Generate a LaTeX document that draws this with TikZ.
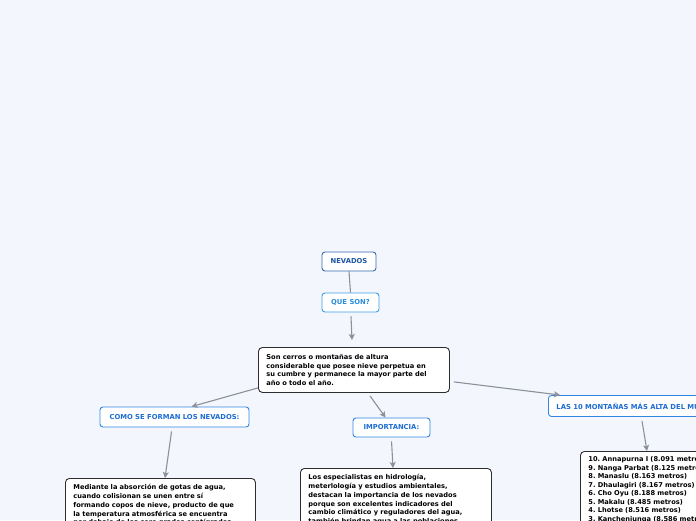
\documentclass[tikz,border=0pt]{standalone}
\usepackage{fontspec}
\setmainfont{DejaVu Sans}
\usetikzlibrary{arrows.meta,calc}
\frenchspacing
\definecolor{bg}{RGB}{243,246,253}
\definecolor{navyb}{RGB}{56,106,178}
\definecolor{navyt}{RGB}{30,86,160}
\definecolor{skyb}{RGB}{58,160,232}
\definecolor{skyt}{RGB}{40,140,218}
\definecolor{topb}{RGB}{50,134,224}
\definecolor{topt}{RGB}{28,108,210}
\definecolor{conn}{RGB}{140,144,152}
\definecolor{bodyb}{RGB}{45,45,45}
\tikzset{
  base/.style={draw,rounded corners=3pt,fill=white,line width=0.9pt,font=\bfseries\fontsize{6.8}{8}\selectfont,inner sep=0pt},
  rootbox/.style={base,draw=navyb,text=navyt},
  subbox/.style={base,draw=skyb,text=skyt},
  topicbox/.style={base,draw=topb,text=topt},
  bodybox/.style={draw=bodyb,rounded corners=4pt,fill=white,line width=0.9pt,font=\bfseries\fontsize{6.65}{8.8}\selectfont,inner xsep=8pt,align=left,text=black},
  conline/.style={draw=conn,line width=1.1pt},
  conarrow/.style={conline,-{Stealth[length=6pt,width=6pt,inset=1.5pt]}},
}
\begin{document}
\frenchspacing
\begin{tikzpicture}[x=1pt,y=-1pt]
\useasboundingbox (0,0) rectangle (696,520);
\fill[bg] (0,0) rectangle (696,520);
\clip (0,0) rectangle (696,520);

\node[rootbox,minimum width=54pt,minimum height=19pt] (nev) at (349,261.5) {NEVADOS};
\node[subbox,minimum width=57pt,minimum height=19pt] (que) at (350.5,302.5) {QUE SON?};
\node[bodybox,anchor=north west,text width=175pt,minimum height=45pt] (main) at (258,347)
  {Son cerros o montañas de altura\\considerable que posee nieve perpetua en\\su cumbre y permanece la mayor parte del\\año o todo el año.};
\node[topicbox,minimum width=149pt,minimum height=20pt] (como) at (174.5,417) {COMO SE FORMAN LOS NEVADOS:};
\node[topicbox,minimum width=77pt,minimum height=19pt] (imp) at (391.5,427.5) {IMPORTANCIA:};
\node[topicbox,anchor=north west,minimum height=21pt,inner xsep=8pt] (las) at (548,395) {LAS 10 MONTAÑAS MÁS ALTA DEL MUNDO};

\node[bodybox,anchor=north west,text width=174pt,inner ysep=6pt] (medi) at (65,478)
  {Mediante la absorción de gotas de agua,\\cuando colisionan se unen entre sí\\formando copos de nieve, producto de que\\la temperatura atmosférica se encuentra\\por debajo de los cero grados centígrados\\y se acumulan en las cumbres.};
\node[bodybox,anchor=north west,text width=175pt,inner ysep=6pt] (los) at (300,468)
  {Los especialistas en hidrología,\\meterlología y estudios ambientales,\\destacan la importancia de los nevados\\porque son excelentes indicadores del\\cambio climático y reguladores del agua,\\también brindan agua a las poblaciones.};
\node[bodybox,anchor=north west,text width=160pt,inner ysep=5pt,font=\bfseries\fontsize{6.65}{8.5}\selectfont] (list) at (580,451)
  {10. Annapurna I (8.091 metros)\\9. Nanga Parbat (8.125 metros)\\8. Manaslu (8.163 metros)\\7. Dhaulagiri (8.167 metros)\\6. Cho Oyu (8.188 metros)\\5. Makalu (8.485 metros)\\4. Lhotse (8.516 metros)\\3. Kanchenjunga (8.586 metros)\\2. K2 (8.611 metros)\\1. Everest (8.848 metros)};

\draw[conline] (nev.south) -- (que.north);
\draw[conarrow] ($(que.south)+(0.5,4)$) -- ($(main.north west)+(94,-7)$);
\draw[conarrow] ($(main.south west)+(0,-5)$) -- ($(como.north west)+(92,0)$);
\draw[conarrow] ($(main.south west)+(112,3)$) -- ($(imp.north west)+(33,0)$);
\draw[conarrow] ($(main.south east)+(4,-11)$) -- ($(las.north west)+(12,0)$);
\draw[conarrow] ($(como.south west)+(72,4)$) -- ($(medi.north west)+(100,0)$);
\draw[conarrow] ($(imp.south west)+(39,4)$) -- ($(los.north west)+(93,0)$);
\draw[conarrow] ($(las.south west)+(94,4)$) -- ($(list.north west)+(67,0)$);
\end{tikzpicture}
\end{document}
